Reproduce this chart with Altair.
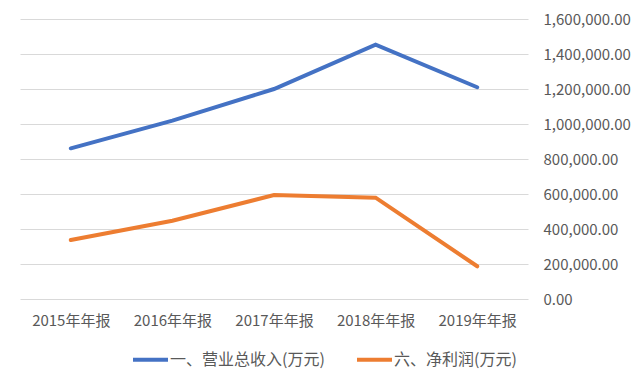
import altair as alt
import pandas as pd

years = ["2015年年报", "2016年年报", "2017年年报", "2018年年报", "2019年年报"]
series_names = ["一、营业总收入(万元)", "六、净利润(万元)"]
revenue = [861000, 1019000, 1200000, 1453000, 1210000]
profit = [337000, 447000, 594000, 579000, 187000]
colors = ["#4472C4", "#ED7D31"]

rows = []
for y, v in zip(years, revenue):
    rows.append({"year": y, "series": series_names[0], "value": v})
for y, v in zip(years, profit):
    rows.append({"year": y, "series": series_names[1], "value": v})
df = pd.DataFrame(rows)

font = "Noto Sans CJK SC"
chart = alt.Chart(df).mark_line(strokeWidth=4, strokeCap="round").encode(
    x=alt.X("year:N", sort=years, scale=alt.Scale(padding=0.5),
            axis=alt.Axis(title=None, labelAngle=0, ticks=False, domain=False,
                          labelFontSize=15, labelColor="#595959", labelPadding=14,
                          labelFont=font)),
    y=alt.Y("value:Q", scale=alt.Scale(domain=[0, 1600000]),
            axis=alt.Axis(title=None, orient="right", format=",.2f", values=list(range(0, 1600001, 200000)),
                          ticks=False, domain=False, labelFontSize=15, labelColor="#595959",
                          labelPadding=15, gridColor="#d9d9d9", gridWidth=1.2, labelFont=font)),
    color=alt.Color("series:N", scale=alt.Scale(domain=series_names, range=colors),
                    legend=alt.Legend(title=None, orient="none", direction="horizontal",
                                      legendX=111, legendY=321, symbolType="stroke",
                                      symbolSize=1225, symbolStrokeWidth=4,
                                      labelFontSize=16, labelColor="#595959", labelFont=font,
                                      columnPadding=24, labelOffset=0, padding=0)),
).properties(
    width=508, height=280,
    padding={"left": 12, "top": 4, "right": 0, "bottom": 8},
    background="white",
).configure_view(stroke=None)

chart.save("out.html", embed_options={"renderer": "svg", "actions": False})
